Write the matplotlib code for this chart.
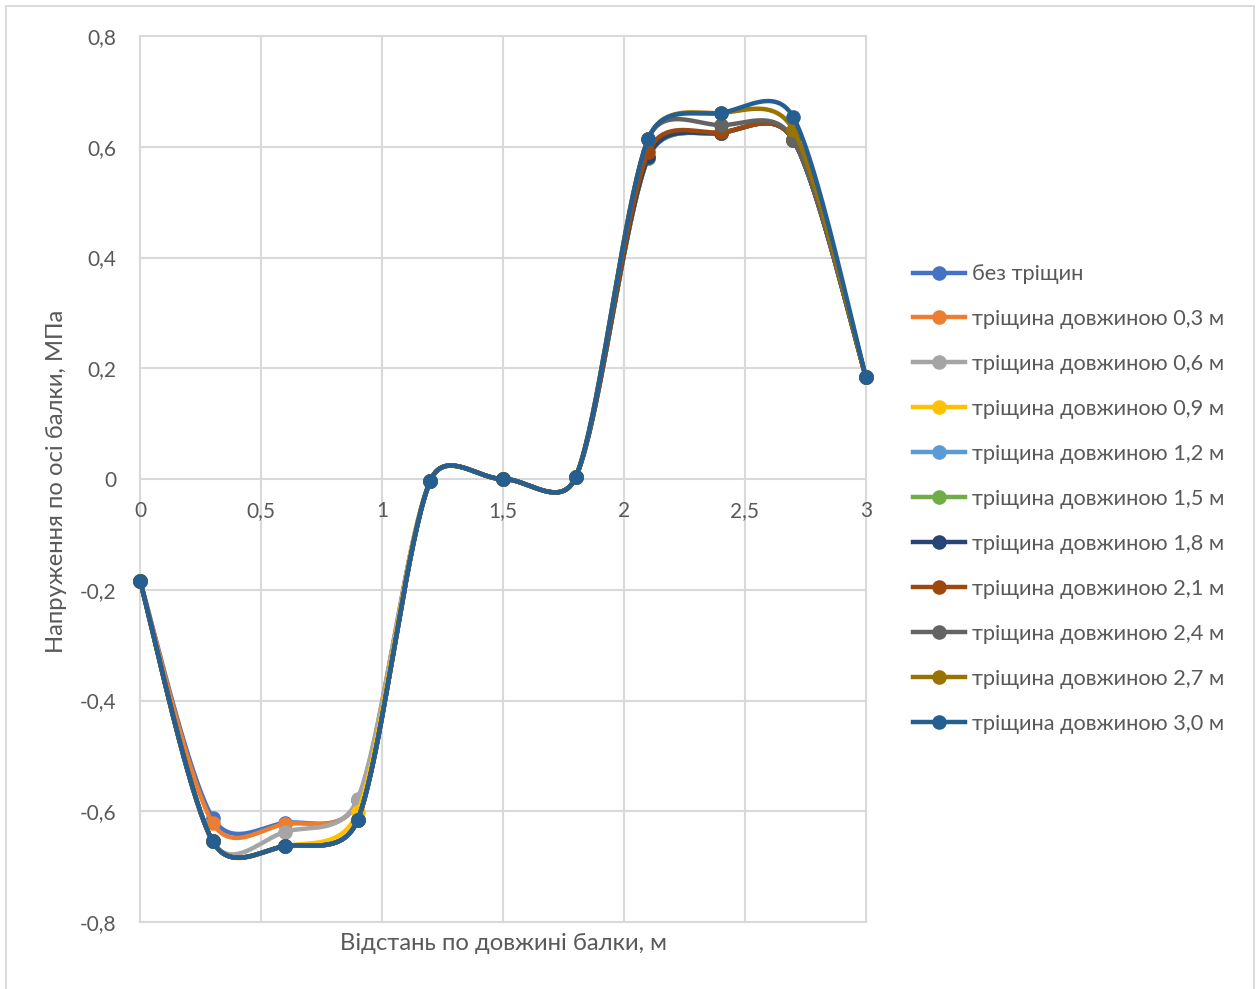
import numpy as np
import matplotlib
matplotlib.use("Agg")
import matplotlib.pyplot as plt
from matplotlib.lines import Line2D
from matplotlib.patches import Rectangle
from matplotlib.ticker import FuncFormatter

# Stress along the beam axis for different crack lengths
x_pos = [0.0, 0.3, 0.6, 0.9, 1.2, 1.5, 1.8, 2.1, 2.4, 2.7, 3.0]

no_crack = [-0.184, -0.612, -0.621, -0.580, -0.003, 0.0, 0.003, 0.580, 0.625, 0.612, 0.184]
crack_03 = [-0.184, -0.621, -0.623, -0.580, -0.003, 0.0, 0.003, 0.580, 0.625, 0.612, 0.184]
crack_06 = [-0.184, -0.654, -0.637, -0.577, -0.003, 0.0, 0.003, 0.580, 0.625, 0.612, 0.184]
crack_09 = [-0.184, -0.654, -0.663, -0.601, -0.003, 0.0, 0.003, 0.580, 0.625, 0.612, 0.184]
crack_12 = [-0.184, -0.654, -0.663, -0.615, -0.003, 0.0, 0.003, 0.580, 0.625, 0.612, 0.184]
crack_15 = [-0.184, -0.654, -0.663, -0.615, -0.003, 0.0, 0.003, 0.580, 0.625, 0.612, 0.184]
crack_18 = [-0.184, -0.654, -0.663, -0.615, -0.003, 0.0, 0.003, 0.581, 0.625, 0.612, 0.184]
crack_21 = [-0.184, -0.654, -0.663, -0.615, -0.003, 0.0, 0.003, 0.590, 0.626, 0.612, 0.184]
crack_24 = [-0.184, -0.654, -0.663, -0.615, -0.003, 0.0, 0.003, 0.614, 0.639, 0.613, 0.184]
crack_27 = [-0.184, -0.654, -0.663, -0.615, -0.003, 0.0, 0.003, 0.614, 0.661, 0.630, 0.184]
crack_30 = [-0.184, -0.654, -0.663, -0.615, -0.003, 0.0, 0.003, 0.614, 0.661, 0.653, 0.184]

series_labels = [
    "без тріщин",
    "тріщина довжиною 0,3 м",
    "тріщина довжиною 0,6 м",
    "тріщина довжиною 0,9 м",
    "тріщина довжиною 1,2 м",
    "тріщина довжиною 1,5 м",
    "тріщина довжиною 1,8 м",
    "тріщина довжиною 2,1 м",
    "тріщина довжиною 2,4 м",
    "тріщина довжиною 2,7 м",
    "тріщина довжиною 3,0 м",
]
series_values = [no_crack, crack_03, crack_06, crack_09, crack_12, crack_15,
                 crack_18, crack_21, crack_24, crack_27, crack_30]
series_colors = ["#4472C4", "#ED7D31", "#A5A5A5", "#FFC000", "#5B9BD5", "#70AD47",
                 "#264478", "#9E480E", "#636363", "#997300", "#255E91"]

x_ticks = [0, 0.5, 1, 1.5, 2, 2.5, 3]
y_ticks = [-0.8, -0.6, -0.4, -0.2, 0, 0.2, 0.4, 0.6, 0.8]

TEXT = "#595959"
GRID = "#D9D9D9"
FONT = "Lato"
FS_TICK = 15
FS_LEG = 15.7
FS_LAB = 17.2

W, H = 1259, 989
fig = plt.figure(figsize=(W / 100, H / 100), dpi=100)
ax = fig.add_axes([140 / W, 1 - 922 / H, (866 - 140) / W, (922 - 36) / H])
ax.set_xlim(0, 3)
ax.set_ylim(-0.8, 0.8)

# chart border
fig.patches.append(Rectangle((5.5 / W, -0.02), (1253.5 - 5.5) / W, 1.02 - 6.5 / H,
                             transform=fig.transFigure, fill=False,
                             edgecolor=GRID, lw=1.3))

for s in ax.spines.values():
    s.set_visible(False)
ax.spines["bottom"].set_position(("data", 0))
ax.set_xticks(x_ticks)
ax.set_yticks(y_ticks)


def comma(v, _pos=None):
    s = f"{v:.1f}".rstrip("0").rstrip(".")
    if s in ("-0", ""):
        s = "0"
    return s.replace(".", ",")


ax.xaxis.set_major_formatter(FuncFormatter(comma))
ax.yaxis.set_major_formatter(FuncFormatter(comma))
ax.tick_params(axis="both", length=0, labelsize=FS_TICK, labelcolor=TEXT)
ax.tick_params(axis="y", pad=17)
ax.tick_params(axis="x", pad=16)
for lab in ax.get_xticklabels() + ax.get_yticklabels():
    lab.set_fontfamily(FONT)

ax.grid(True, color=GRID, lw=1.5)
ax.set_axisbelow(True)
for gl in ax.get_xgridlines() + ax.get_ygridlines():
    gl.set_clip_on(False)


def smooth_curve(xs, ys, n=40):
    """Bezier smoothing computed in screen space, tangent handles limited
    to half of the adjacent segment."""
    P = ax.transData.transform(np.column_stack([xs, ys]))
    m = len(P)
    V = np.zeros_like(P)
    for i in range(m):
        a = P[max(i - 1, 0)]
        b = P[min(i + 1, m - 1)]
        V[i] = (b - a) / 6.0
    out = [P[0][None, :]]
    t = np.linspace(0, 1, n)[1:, None]
    for i in range(m - 1):
        p0, p3 = P[i], P[i + 1]
        seg = np.linalg.norm(p3 - p0)
        v0, v1 = V[i], V[i + 1]
        l0, l1 = np.linalg.norm(v0), np.linalg.norm(v1)
        k0 = min(1.0, 0.5 * seg / l0) if l0 > 0 else 0
        k1 = min(1.0, 0.5 * seg / l1) if l1 > 0 else 0
        c1 = p0 + v0 * k0
        c2 = p3 - v1 * k1
        pts = ((1 - t) ** 3) * p0 + 3 * ((1 - t) ** 2) * t * c1 + \
            3 * (1 - t) * t ** 2 * c2 + t ** 3 * p3
        out.append(pts)
    disp = np.vstack(out)
    return ax.transData.inverted().transform(disp)


LW = 3.2
MS = 10.5
handles = []
for i, (lab, vals, col) in enumerate(zip(series_labels, series_values, series_colors)):
    curve = smooth_curve(x_pos, vals)
    z = 3 + i * 0.1
    ax.plot(curve[:, 0], curve[:, 1], color=col, lw=LW, zorder=z,
            solid_capstyle="round", clip_on=False)
    ax.plot(x_pos, vals, ls="none", marker="o", ms=MS, color=col,
            markeredgewidth=0, zorder=z + 0.05, clip_on=False)
    handles.append(Line2D([], [], color=col, lw=LW, marker="o", ms=MS,
                          markeredgewidth=0))

leg = fig.legend(handles, series_labels, loc="center left",
                 bbox_to_anchor=(913 / W, 1 - 499 / H), frameon=False,
                 borderpad=0, borderaxespad=0, handlelength=2.4,
                 handletextpad=0.3, labelspacing=1.145,
                 prop={"family": FONT, "size": FS_LEG})
for txt in leg.get_texts():
    txt.set_color(TEXT)

fig.text(57 / W, 1 - 481 / H, "Напруження по осі балки, МПа", rotation=90,
         ha="center", va="center", fontsize=FS_LAB, color=TEXT, family=FONT)
fig.text(503 / W, 1 - 944 / H, "Відстань по довжині балки, м",
         ha="center", va="center", fontsize=FS_LAB, color=TEXT, family=FONT)

fig.savefig("out.png", dpi=100)
